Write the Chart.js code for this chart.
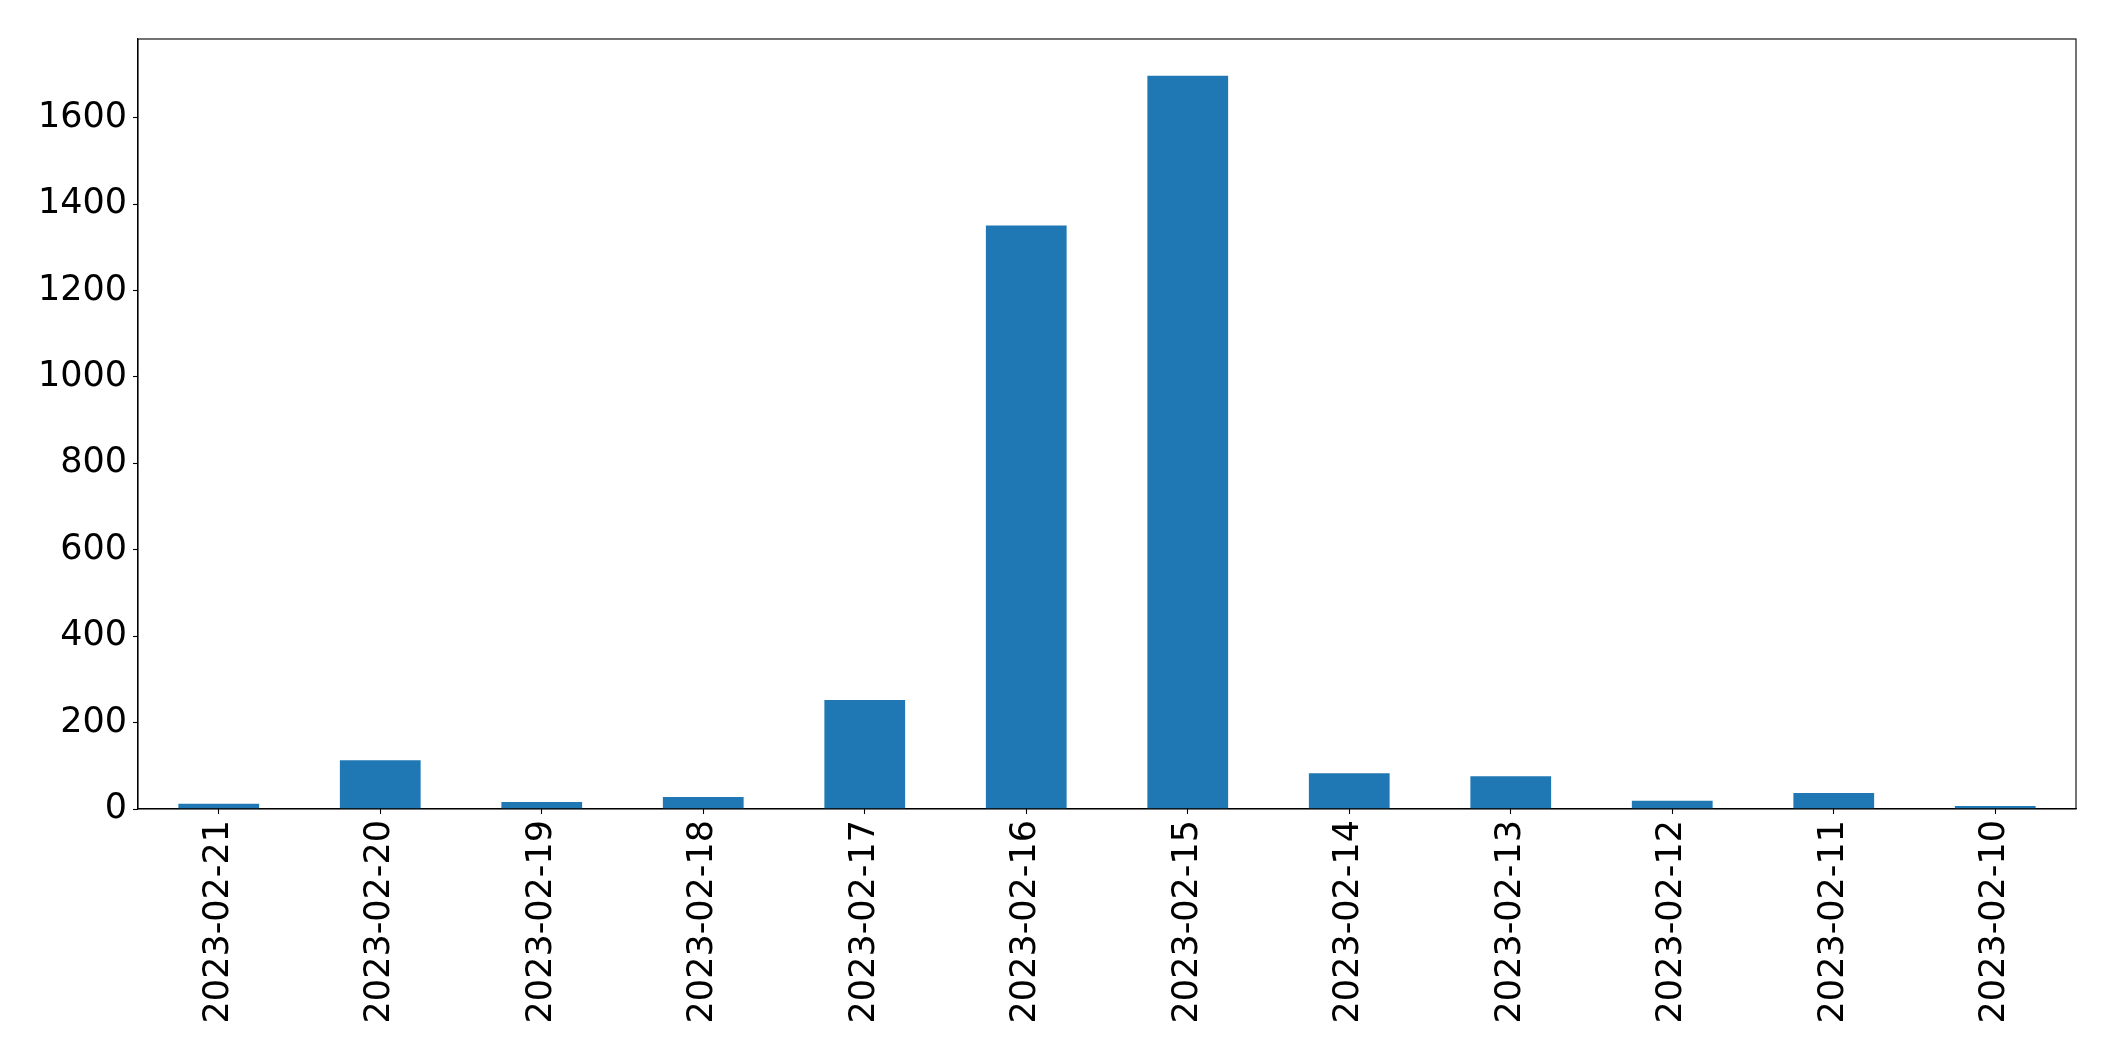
<!DOCTYPE html>
<html>
<head>
<meta charset="utf-8">
<script src="https://cdn.jsdelivr.net/npm/chart.js@4.4.0/dist/chart.umd.min.js"></script>
<style>
  html, body { margin: 0; padding: 0; background: #fff; }
  #wrap { width: 2115px; height: 1061px; }
</style>
</head>
<body>
<div id="wrap"><canvas id="chart" width="2115" height="1061"></canvas></div>
<script>
// values
const dates = ['2023-02-21', '2023-02-20', '2023-02-19', '2023-02-18', '2023-02-17', '2023-02-16',
               '2023-02-15', '2023-02-14', '2023-02-13', '2023-02-12', '2023-02-11', '2023-02-10'];
const counts = [12, 113, 16, 28, 252, 1350, 1697, 83, 76, 19, 37, 7];
const yTicks = [0, 200, 400, 600, 800, 1000, 1200, 1400, 1600];

const tickFont = { family: 'DejaVu Sans', size: 35 };

// matplotlib draws a full box round the axes
const frame = {
  id: 'frame',
  afterDraw(chart) {
    const { ctx, chartArea: a } = chart;
    ctx.save();
    ctx.strokeStyle = '#000';
    ctx.lineWidth = 1.1;
    ctx.strokeRect(a.left, a.top, a.right - a.left, a.bottom - a.top);
    ctx.restore();
  }
};

new Chart(document.getElementById('chart'), {
  type: 'bar',
  data: {
    labels: dates,
    datasets: [{
      data: counts,
      backgroundColor: '#1f77b4',
      borderWidth: 0,
      categoryPercentage: 1,
      barPercentage: 0.5
    }]
  },
  options: {
    responsive: false,
    animation: false,
    layout: { padding: { top: 39, right: 39, left: 0, bottom: 0 } },
    plugins: { legend: { display: false }, tooltip: { enabled: false } },
    scales: {
      x: {
        grid: { offset: false, drawOnChartArea: false, drawTicks: true, tickLength: 5, tickColor: '#000', tickWidth: 1.1 },
        border: { display: true, color: '#000', width: 1.1 },
        ticks: { color: '#000', font: tickFont, minRotation: 90, maxRotation: 90, padding: 6, autoSkip: false },
        afterFit(s) { s.height = 252; }
      },
      y: {
        min: 0,
        max: Math.max(...counts) * 1.05,
        grid: { drawOnChartArea: false, drawTicks: true, tickLength: 5, tickColor: '#000', tickWidth: 1.1 },
        border: { display: true, color: '#000', width: 1.1 },
        ticks: { color: '#000', font: tickFont, padding: 6, callback: v => String(v) },
        afterBuildTicks(s) { s.ticks = yTicks.map(v => ({ value: v })); },
        afterFit(s) { s.width = 138; }
      }
    }
  },
  plugins: [frame]
});
</script>
</body>
</html>
